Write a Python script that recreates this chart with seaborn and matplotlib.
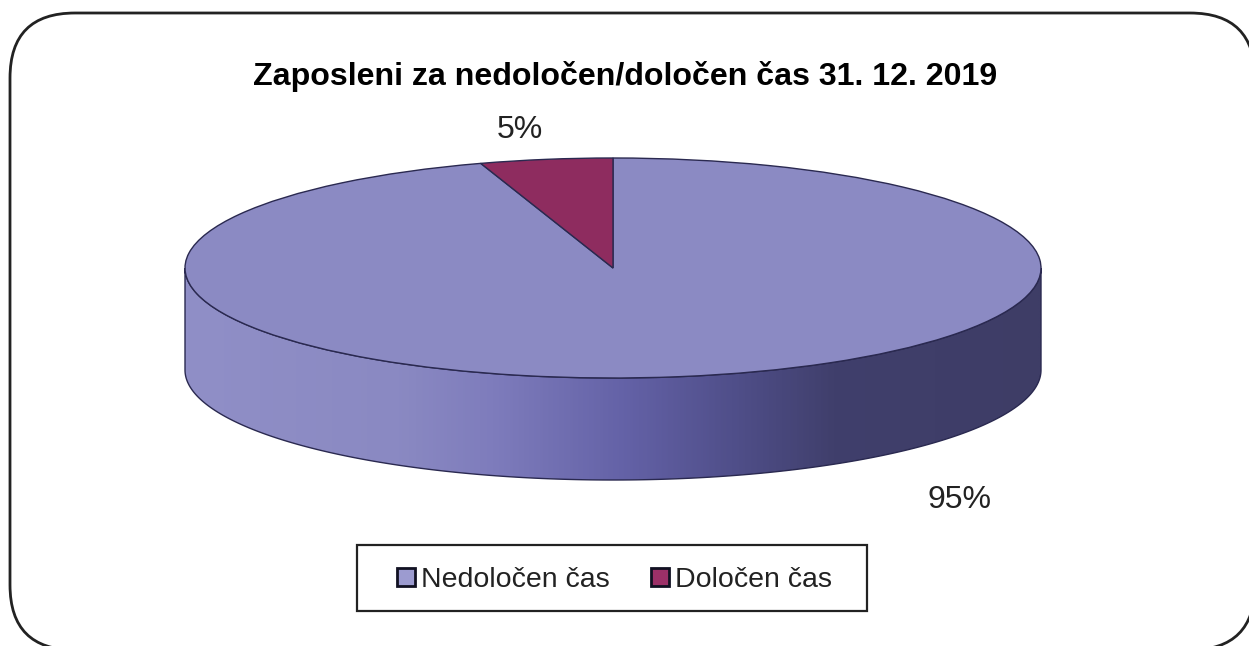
import numpy as np
import matplotlib
matplotlib.use("Agg")
import matplotlib.pyplot as plt
from matplotlib.colors import LinearSegmentedColormap
from matplotlib.patches import FancyBboxPatch, Patch, Polygon, Rectangle
import seaborn as sns

title = "Zaposleni za nedoločen/določen čas 31. 12. 2019"
categories = ["Nedoločen čas", "Določen čas"]
values = [95, 5]
value_labels = ["95%", "5%"]
colors = ["#8b8ac3", "#8e2c5f"]

sns.set_theme(style="white")
plt.rcParams["font.family"] = ["Liberation Sans", "DejaVu Sans"]

W, H = 1249, 646
fig = plt.figure(figsize=(W / 100, H / 100), dpi=100, facecolor="white")

# background axes in pixel coordinates, for the rounded frame and the texts
bg = fig.add_axes([0, 0, 1, 1])
bg.set_xlim(0, W)
bg.set_ylim(H, 0)
bg.axis("off")
bg.add_patch(FancyBboxPatch((10, 13), 1245, 637, boxstyle="round,pad=0,rounding_size=65",
                            fc="white", ec="#222222", lw=2))
bg.add_patch(Rectangle((357, 545), 510, 66, fc="white", ec="#222222", lw=1.6))

# the pie sits in its own axes so the circle gets squashed into an ellipse
cx, cy, rx, ry, depth = 613, 268, 428, 110, 102
depth_u = depth / ry
ax = fig.add_axes([(cx - rx) / W, 1 - (cy + ry + depth) / H, 2 * rx / W, (2 * ry + depth) / H])

# side of the pie with the shading from left to right
side_cols = ["#908fc7", "#8a89c2", "#7e7cbc", "#6361a6", "#504f8a", "#403f6c", "#3e3d66"]
side_pos = [0.0, 0.25, 0.36, 0.52, 0.64, 0.76, 1.0]
side_cmap = LinearSegmentedColormap.from_list("side", list(zip(side_pos, sns.blend_palette(side_cols, 7))))
theta = np.linspace(np.pi, 2 * np.pi, 200)
top_edge = np.column_stack([np.cos(theta), np.sin(theta)])
bottom_edge = np.column_stack([np.cos(theta[::-1]), np.sin(theta[::-1]) - depth_u])
side = Polygon(np.vstack([top_edge, bottom_edge]), closed=True, fc="none", ec="#2a2950", lw=1,
               zorder=3, clip_on=False)
ax.add_patch(side)
img = ax.imshow(np.linspace(0, 1, 400).reshape(1, -1), cmap=side_cmap, aspect="auto",
                extent=(-1, 1, -1 - depth_u, 0), zorder=2)
img.set_clip_path(side)

wedges, _ = ax.pie(values, colors=colors, startangle=90, counterclock=False, radius=1,
                   wedgeprops=dict(edgecolor="#2a2950", linewidth=1, zorder=4))
ax.set_aspect("auto")
ax.set_xlim(-1, 1)
ax.set_ylim(-1 - depth_u, 1)
ax.axis("off")

bg.text(625, 76, title, ha="center", va="center", fontsize=23.1, fontweight="bold", color="black")
bg.text(960, 500, value_labels[0], ha="center", va="center", fontsize=23, color="#222222")
bg.text(520, 130, value_labels[1], ha="center", va="center", fontsize=23, color="#222222")

handles = [Patch(facecolor=c, edgecolor="#111122", linewidth=2) for c in ["#9c9bd0", "#9c3068"]]
leg = bg.legend(handles, categories, loc="center", bbox_to_anchor=(614.5 / W, 1 - 580 / H),
                bbox_transform=fig.transFigure, ncol=2, fontsize=20.5, frameon=False,
                handlelength=0.63, handleheight=0.63, handletextpad=0.2, columnspacing=1.47,
                labelcolor="#222222")

plt.savefig("out.png", dpi=100, facecolor="white")
